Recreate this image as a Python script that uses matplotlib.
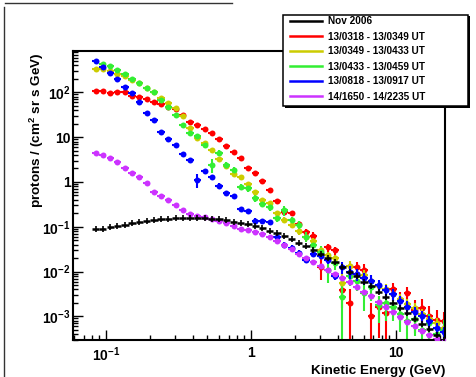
import numpy as np
import matplotlib
matplotlib.use("Agg")
import matplotlib.pyplot as plt
from matplotlib.lines import Line2D
from matplotlib.patches import Rectangle

plt.rcParams["font.family"] = ["Liberation Sans", "DejaVu Sans"]
plt.rcParams["font.weight"] = "bold"
plt.rcParams["mathtext.fontset"] = "custom"
plt.rcParams["mathtext.rm"] = "Liberation Sans:bold"
plt.rcParams["mathtext.it"] = "Liberation Sans:bold"
plt.rcParams["mathtext.bf"] = "Liberation Sans:bold"
plt.rcParams["mathtext.default"] = "bf"

# kinetic energy bin centres (GeV)
energy = [0.085, 0.095, 0.107, 0.120, 0.135, 0.151, 0.170, 0.191, 0.214, 0.240,
          0.269, 0.302, 0.339, 0.380, 0.427, 0.479, 0.537, 0.603, 0.676, 0.759,
          0.851, 0.955, 1.07, 1.20, 1.35, 1.51, 1.70, 1.91, 2.14, 2.40,
          2.69, 3.02, 3.39, 3.80, 4.27, 4.79, 5.37, 6.03, 6.76, 7.59,
          8.51, 9.55, 10.7, 12.0, 13.5, 15.1, 17.0, 19.1, 21.4]

labels = ["Nov 2006", "13/0318 - 13/0349 UT", "13/0349 - 13/0433 UT",
          "13/0433 - 13/0459 UT", "13/0818 - 13/0917 UT", "14/1650 - 14/2235 UT"]

# proton flux, protons / (cm^2 sr s GeV)
flux_nov2006 = [0.088, 0.091, 0.097, 0.104, 0.110, 0.119, 0.126, 0.132, 0.139, 0.146,
                0.151, 0.155, 0.158, 0.160, 0.160, 0.157, 0.152, 0.146, 0.139, 0.131,
                0.122, 0.113, 0.103, 0.092, 0.081, 0.071, 0.061, 0.052, 0.044, 0.037,
                0.031, 0.025, 0.0204, 0.0162, 0.0129, 0.0100, 0.0078, 0.0060, 0.0047, 0.0035,
                0.0027, 0.00204, 0.00155, 0.00117, 0.00089, 0.00068, 0.00051, 0.00039, 0.00030]
flux_0318 = [110, 110, 98, 100, 102, 85, 78, 71, 62, 54,
             48, 42, 32, 22, 18.6, 15, 12.3, 8.9, 6.3, 4.6,
             3.5, 2.1, 1.58, 1.05, 0.66, 0.38, 0.21, 0.20, 0.117, 0.076,
             0.063, 0.0129, 0.035, 0.030, 0.0039, 0.0020, 0.0126, 0.011, 0.0010, 0.00162,
             0.00117, 0.0040, 0.00234, 0.0033, 0.0014, 0.00155, 0.0010, 0.00083, 0.00079]
flux_0349 = [325, 325, 295, 263, 229, 190, 158, 126, 100, 76,
             58, 45, 29, 15.8, 9.5, 7.6, 5.2, 3.3, 2.3, 1.48,
             1.32, 0.89, 0.60, 0.40, 0.34, 0.20, 0.141, 0.112, 0.079, 0.060,
             0.048, 0.030, 0.024, 0.020, 0.0056, 0.0132, 0.0089, 0.0083, 0.0063, 0.0048,
             0.0040, 0.0032, 0.0024, 0.0019, 0.0015, 0.00112, 0.00089, 0.00071, 0.00056]
flux_0433 = [np.nan, 436, 380, 316, 263, 200, 158, 123, 100, 66,
             48, 32, 18.6, 12.3, 10.5, 6.8, 2.4, 4.4, 2.4, 1.86,
             0.79, 0.72, 0.44, 0.33, 0.28, 0.158, 0.234, 0.141, 0.110, 0.060,
             0.040, 0.028, 0.011, 0.0158, 0.00275, 0.0079, 0.0063, 0.0033, 0.0045, 0.0018,
             0.0020, 0.00158, 0.00112, 0.00079, 0.00089, 0.0005, 0.00071, 0.0004, 0.0005]
flux_0818 = [490, 370, 270, 200, 135, 95, 60, 35, 24, 13.2,
             8.9, 6.6, 4.2, 3.1, 1.10, 1.78, 1.26, 0.83, 0.56, 0.48,
             0.25, 0.224, 0.138, 0.132, 0.126, 0.060, 0.039, 0.034, 0.026, 0.018,
             0.025, 0.022, 0.0178, 0.0078, 0.0129, 0.010, 0.0089, 0.0071, 0.0063, 0.0050,
             0.0038, 0.0032, 0.0022, 0.00166, 0.00126, 0.0010, 0.00079, 0.00056, 0.00045]
flux_1650 = [4.5, 4.1, 3.4, 2.75, 2.0, 1.62, 1.29, 0.93, 0.60, 0.48,
             0.40, 0.31, 0.24, 0.19, 0.174, 0.166, 0.151, 0.138, 0.120, 0.105,
             0.091, 0.085, 0.076, 0.068, 0.058, 0.049, 0.040, 0.032, 0.025, 0.020,
             0.0166, 0.0135, 0.011, 0.0089, 0.0072, 0.0058, 0.0046, 0.0035, 0.0028, 0.0021,
             0.00166, 0.00126, 0.00098, 0.00076, 0.0006, 0.00048, 0.00038, 0.00032, 0.00028]

# relative statistical errors
err_nov2006 = [0.01] * 30 + [0.015] * 10 + [0.02] * 9
err_0318 = [0.04] * 25 + [0.08, 0.12, 0.12, 0.15, 0.15, 0.2, 0.5, 0.2, 0.2, 0.6,
                          1.0, 0.3, 0.35, 1.0, 0.8, 0.9, 0.4, 0.5, 0.4, 0.7,
                          0.6, 0.7, 0.7, 0.6]
err_0349 = [0.04] * 12 + [0.08] * 13 + [0.15] * 9 + [0.6] + [0.3] * 14
err_0433 = [0.04] * 12 + [0.12, 0.12, 0.12, 0.12, 0.35, 0.15, 0.15, 0.15,
                          0.15, 0.15, 0.18, 0.18, 0.18, 0.2, 0.25, 0.2, 0.2, 0.25,
                          0.3, 0.3, 0.5, 0.3, 0.9, 0.4, 0.4, 0.6, 0.5, 0.6,
                          0.6, 0.5, 0.6, 0.7, 0.6, 0.8, 0.6, 0.8, 0.7]
err_0818 = [0.04] * 9 + [0.1] * 5 + [0.35] + [0.12] * 10 + [0.15] * 9 + [0.3] * 15
err_1650 = [0.03] * 20 + [0.05] * 14 + [0.12] * 15

colors = ["#000000", "#ff0000", "#cccc00", "#33ee33", "#0000ff", "#cc33ff"]
series = [flux_nov2006, flux_0318, flux_0349, flux_0433, flux_0818, flux_1650]
errors = [err_nov2006, err_0318, err_0349, err_0433, err_0818, err_1650]

W, H = 477, 377
fig = plt.figure(figsize=(W / 100, H / 100), dpi=100)
ax = fig.add_axes([73.3 / W, 1 - 340 / H, (445 - 73.3) / W, (340 - 50.7) / H])

e = np.array(energy)
half_dex = 0.025
xerr = np.vstack([e - e * 10 ** -half_dex, e * 10 ** half_dex - e])

def draw(i, z):
    y = np.array(series[i], dtype=float)
    rel = np.array(errors[i])
    lo = np.minimum(rel, 0.999) * y
    hi = rel * y
    if i == 0:
        ax.errorbar(e, y, xerr=xerr, yerr=[lo, hi], fmt="none", ecolor=colors[i],
                    elinewidth=1.8, capsize=0, zorder=z)
        ax.plot(e, y, ls="none", marker="|", ms=4, mew=1.2, color=colors[i], zorder=z)
    else:
        ax.errorbar(e, y, xerr=xerr, yerr=[lo, hi], fmt="o", ms=4.3, mew=0,
                    color=colors[i], ecolor=colors[i], elinewidth=1.5,
                    capsize=1.8, capthick=1.2, zorder=z)

for i in range(1, 6):
    draw(i, 2 + i * 0.1)
draw(0, 3)

ax.set_xscale("log")
ax.set_yscale("log")
ax.set_xlim(0.0595, 21.8)
ax.set_ylim(2.97e-4, 851)

ax.set_xticks([0.1, 1, 10])
ax.set_xticklabels(["10$^{-1}$", "1", "10"])
ax.set_yticks([1e-3, 1e-2, 1e-1, 1, 10, 100])
ax.set_yticklabels(["10$^{-3}$", "10$^{-2}$", "10$^{-1}$", "1", "10", "10$^{2}$"])
ax.xaxis.set_minor_locator(matplotlib.ticker.LogLocator(base=10, subs=np.arange(2, 10)))
ax.yaxis.set_minor_locator(matplotlib.ticker.LogLocator(base=10, subs=np.arange(2, 10)))
ax.xaxis.set_minor_formatter(matplotlib.ticker.NullFormatter())
ax.yaxis.set_minor_formatter(matplotlib.ticker.NullFormatter())
ax.tick_params(which="both", direction="in", top=False, right=False, width=1.0,
               labelsize=10, colors="black")
ax.tick_params(which="major", length=7)
ax.tick_params(which="minor", length=3.5)
ax.tick_params(axis="x", pad=4)
ax.tick_params(axis="y", pad=2)
for s in ax.spines.values():
    s.set_linewidth(1.5)

fig.text(37 / W, 1 - 130 / H, "protons / (cm$^{2}$ sr s GeV)", rotation=90,
         ha="center", va="center", fontsize=9.7, fontweight="bold")
fig.text(445 / W, 1 - 371 / H, "Kinetic Energy (GeV)", ha="right", va="center",
         fontsize=9.7, fontweight="bold")

# legend box with shadow
bx0, by0, bx1, by1 = 283, 15, 468, 106
fig.add_artist(Rectangle(((bx0 + 1.5) / W, 1 - (by1 + 1.5) / H), (bx1 - bx0) / W, (by1 - by0) / H,
                         transform=fig.transFigure, facecolor="black", edgecolor="none", zorder=10))
fig.add_artist(Rectangle((bx0 / W, 1 - by1 / H), (bx1 - bx0) / W, (by1 - by0) / H,
                         transform=fig.transFigure, facecolor="white", edgecolor="black",
                         linewidth=1.1, zorder=11))
handles = [Line2D([], [], color=c, lw=1.8) for c in colors]
leg = fig.legend(handles, labels, loc="upper left", bbox_to_anchor=(290 / W, 1 - 16.5 / H),
                 frameon=False, fontsize=7.2, handlelength=3.2, handletextpad=0.6,
                 labelspacing=0.5, borderpad=0, borderaxespad=0)
leg.set_zorder(12)

# page edges
fig.add_artist(Line2D([5 / W, 232 / W], [1 - 2.7 / H, 1 - 2.7 / H], transform=fig.transFigure,
                      color="#333333", lw=1.0))
fig.add_artist(Line2D([4.5 / W, 4.5 / W], [1 - 7 / H, 0], transform=fig.transFigure,
                      color="#333333", lw=1.0))

fig.savefig("out.png", dpi=100)
